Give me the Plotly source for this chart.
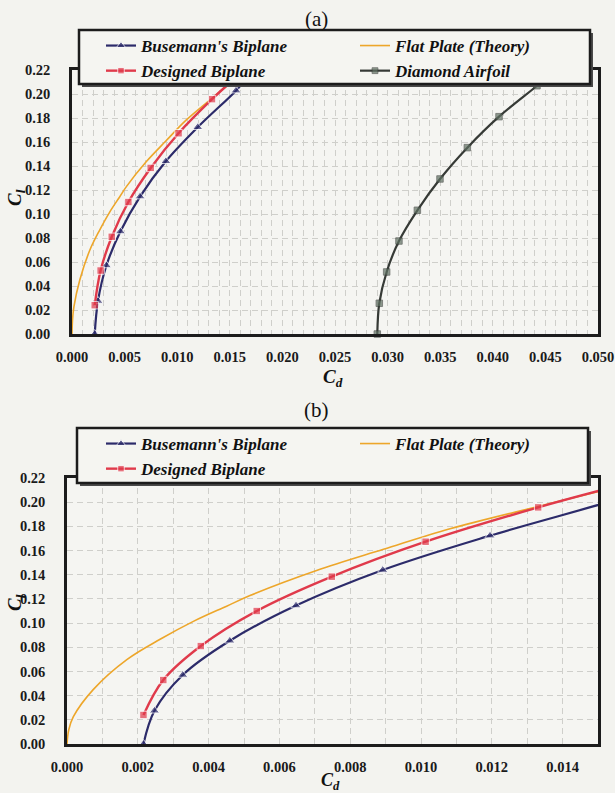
import plotly.graph_objects as go

# ---------------- data ----------------
# Busemann's Biplane (last point = line continuation under the legend)
bus_cd = [0.00216, 0.00247, 0.00327, 0.00460, 0.00647, 0.00892, 0.01195, 0.01559, 0.01660]
bus_cl = [0.0000, 0.0275, 0.0571, 0.0854, 0.1145, 0.1439, 0.1723, 0.2028, 0.2130]
# Designed Biplane
des_cd = [0.00216, 0.00272, 0.00378, 0.00536, 0.00748, 0.01013, 0.01331, 0.01510]
des_cl = [0.0240, 0.0529, 0.0810, 0.1100, 0.1384, 0.1673, 0.1957, 0.2100]
# Flat Plate (Theory)
flat_cd = [0.0, 0.00005, 0.00018, 0.00074, 0.00169, 0.00263, 0.00357, 0.00451, 0.00517,
           0.00705, 0.00894, 0.01082, 0.01336, 0.01510]
flat_cl = [0.0, 0.0118, 0.0226, 0.0450, 0.0698, 0.0866, 0.1014, 0.1140, 0.1228,
           0.1435, 0.1610, 0.1780, 0.1968, 0.2094]
# Diamond Airfoil
dia_cd = [0.02902, 0.02921, 0.02991, 0.03108, 0.03283, 0.03498, 0.03758, 0.04059, 0.04420, 0.04480]
dia_cl = [0.0000, 0.0256, 0.0517, 0.0775, 0.1031, 0.1292, 0.1553, 0.1811, 0.2069, 0.2117]

names = ["Busemann's Biplane", "Flat Plate (Theory)", "Designed Biplane", "Diamond Airfoil"]
panel_titles = ["(a)", "(b)"]
x_title = "<i>C</i><sub><i>d</i></sub>"
y_title = "<i>C</i><sub><i>l</i></sub>"

# ---------------- styling ----------------
W, H = 615, 793
def px(x):
    return x / W
def py(y):
    return 1 - y / H

C_BUS = "#2c2b6a"
C_DES = "#e03a4b"
C_FLAT = "#eda62a"
C_DIA = "#363a36"
C_DIA_M = "#5f7062"
FRAME = "#1c1c1c"
GRID = "#cfcfcb"
BG = "#f3f3ef"
SERIF = "Liberation Serif"

def msizes(n_total, n_marked, s):
    return [s] * n_marked + [0] * (n_total - n_marked)

fig = go.Figure()

def add_panel(xa, ya, leg, with_diamond):
    common = dict(xaxis=xa, yaxis=ya, legend=leg, mode="lines+markers",
                  line_shape="spline", cliponaxis=False, hoverinfo="skip")
    fig.add_trace(go.Scatter(x=bus_cd, y=bus_cl, name=names[0],
                             line=dict(color=C_BUS, width=2.2),
                             marker=dict(symbol="triangle-up", color=C_BUS,
                                         size=msizes(len(bus_cd), 8, 9)), **common))
    fig.add_trace(go.Scatter(x=flat_cd, y=flat_cl, name=names[1],
                             line=dict(color=C_FLAT, width=1.6),
                             marker=dict(size=0, color=C_FLAT),
                             **{**common, "mode": "lines"}))
    fig.add_trace(go.Scatter(x=des_cd, y=des_cl, name=names[2],
                             line=dict(color=C_DES, width=2.4),
                             marker=dict(symbol="square", color=C_DES,
                                         size=msizes(len(des_cd), 7, 7.5)), **common))
    if with_diamond:
        fig.add_trace(go.Scatter(x=dia_cd, y=dia_cl, name=names[3],
                                 line=dict(color=C_DIA, width=2.2),
                                 marker=dict(symbol="square", color=C_DIA_M,
                                             line=dict(color=C_DIA, width=0.8),
                                             size=msizes(len(dia_cd), 9, 6.5)), **common))

add_panel("x", "y", "legend", True)
add_panel("x2", "y2", "legend2", False)

tickfont = dict(family=SERIF, size=14.5, color="#1a1a1a", weight="bold")
grid = dict(showgrid=True, gridcolor=GRID, gridwidth=1, griddash="6px,4px")
frame = dict(showline=True, mirror=True, linecolor=FRAME, linewidth=2.5,
             ticks="", zeroline=False, automargin=False, ticklabeloverflow="allow")

def xaxis(domain, rng, dtick, anchor):
    return dict(domain=domain, range=rng, anchor=anchor, tickmode="linear", tick0=0,
                dtick=dtick, tickformat=".3f", tickfont=tickfont, ticklabelstandoff=8,
                minor=dict(dtick=0.001, tick0=0, showgrid=True, gridcolor=GRID,
                           gridwidth=1, griddash="6px,4px", ticks=""),
                **grid, **frame)

def yaxis(domain, anchor):
    return dict(domain=domain, range=[0, 0.22], anchor=anchor, tickmode="linear", tick0=0,
                dtick=0.02, tickformat=".2f", tickfont=tickfont, ticklabelstandoff=16,
                **grid, **frame)

legfont = dict(family=SERIF, size=17, color="#111111", weight="bold", style="italic")
def legend(top):
    return dict(orientation="h", x=px(101), xanchor="left", y=py(top), yanchor="top",
                bgcolor="rgba(0,0,0,0)", borderwidth=0, font=legfont, itemwidth=30,
                entrywidth=209, entrywidthmode="pixels", tracegroupgap=0,
                itemclick=False, itemdoubleclick=False)

shapes = []
for (x0, x1, y0, y1) in [(79, 590, 30, 84), (77, 588, 428, 483)]:
    shapes.append(dict(type="rect", xref="paper", yref="paper", layer="above",
                       x0=px(x0 + 3), x1=px(x1 + 3), y0=py(y1 + 3), y1=py(y0 + 3),
                       fillcolor="#4a4a4a", line=dict(width=0)))
    shapes.append(dict(type="rect", xref="paper", yref="paper", layer="above",
                       x0=px(x0), x1=px(x1), y0=py(y1), y1=py(y0),
                       fillcolor="#f5f5f1", line=dict(color=FRAME, width=2.5)))

def label(text, x, y, size, bold=False, angle=0):
    f = dict(family=SERIF, size=size, color="#111")
    if bold:
        f["weight"] = "bold"
    return dict(text=text, x=px(x), y=py(y), xref="paper", yref="paper", textangle=angle,
                xanchor="center", yanchor="middle", showarrow=False, font=f)

annotations = [
    label(panel_titles[0], 316, 19, 21),
    label(panel_titles[1], 316, 410, 21),
    label(x_title, 333, 378, 19, bold=True),
    label(x_title, 330, 781, 18, bold=True),
    label(y_title, 16, 198, 19, bold=True, angle=-90),
    label(y_title, 16, 603, 19, bold=True, angle=-90),
]

fig.update_layout(
    width=W, height=H, margin=dict(l=0, r=0, t=0, b=0),
    paper_bgcolor=BG, plot_bgcolor="#f5f5f2",
    xaxis=xaxis([px(72), px(598)], [0, 0.05], 0.005, "y"),
    yaxis=yaxis([py(334), py(70)], "x"),
    xaxis2=xaxis([px(67), px(598)], [0, 0.015], 0.002, "y2"),
    yaxis2=yaxis([py(744), py(478)], "x2"),
    legend=legend(28),
    legend2=legend(426),
    shapes=shapes,
    annotations=annotations,
    hovermode=False,
)

# remove the default 8px page margin so the figure fills the window exactly
fig.write_html("out.html", config={"displayModeBar": False, "staticPlot": False},
               post_script="document.body.style.margin='0';")
